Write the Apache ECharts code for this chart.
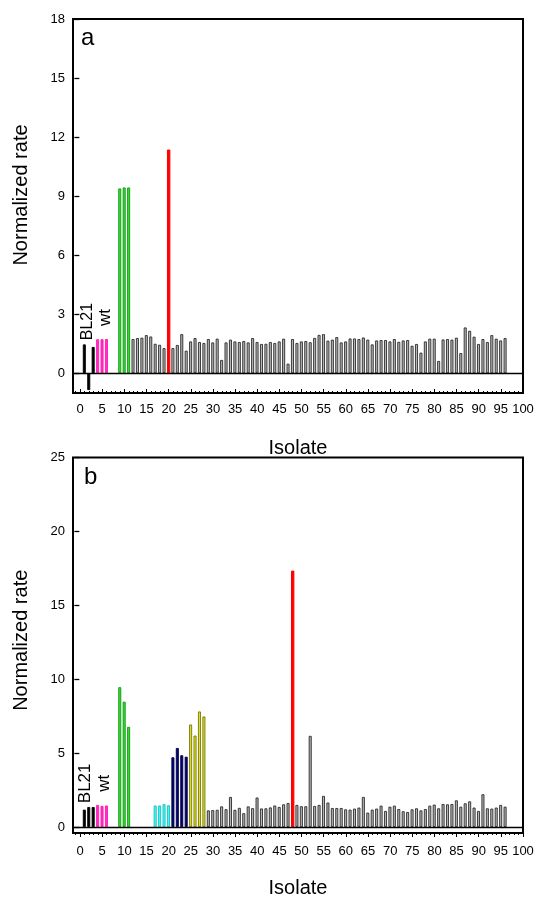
<!DOCTYPE html>
<html>
<head>
<meta charset="utf-8">
<title>Normalized rate by isolate</title>
<script src="https://cdn.jsdelivr.net/npm/echarts@6/dist/echarts.min.js"></script>
<style>
  html, body { margin: 0; padding: 0; background: #fff; }
  #chart { width: 536px; height: 898px; }
</style>
</head>
<body>
<div id="chart"></div>
<script>
// panel a, values by isolate number
const blackA = [1.47, -0.85, 1.34]   // isolates 1-3 (BL21)
const magentaA = [1.73, 1.73, 1.74]  // 4-6 (wt)
const greenA = [9.39, 9.44, 9.44]    // 9-11
const redA = [11.37]                 // 20
// isolates 12-96, null where the red bar sits (20)
const grayA = [
  1.74, 1.79, 1.81, 1.94, 1.87, 1.50, 1.45, 1.28, null, 1.28,
  1.44, 1.99, 1.15, 1.62, 1.79, 1.59, 1.54, 1.74, 1.57, 1.76,
  0.68, 1.57, 1.71, 1.62, 1.59, 1.64, 1.57, 1.79, 1.59, 1.49,
  1.50, 1.59, 1.54, 1.62, 1.76, 0.49, 1.74, 1.54, 1.62, 1.64,
  1.58, 1.80, 1.95, 1.99, 1.66, 1.71, 1.84, 1.57, 1.62, 1.77,
  1.77, 1.74, 1.82, 1.71, 1.47, 1.67, 1.69, 1.69, 1.62, 1.74,
  1.60, 1.67, 1.69, 1.40, 1.49, 1.05, 1.62, 1.76, 1.76, 0.63,
  1.72, 1.74, 1.71, 1.81, 1.03, 2.33, 2.16, 1.86, 1.49, 1.74,
  1.59, 1.94, 1.76, 1.67, 1.79
]

// panel b
const blackB = [1.18, 1.36, 1.36]        // 1-3
const magentaB = [1.50, 1.43, 1.46]      // 4-6
const greenB = [9.46, 8.48, 6.78]        // 9-11
const cyanB = [1.46, 1.46, 1.55, 1.48]   // 17-20
const navyB = [4.72, 5.35, 4.86, 4.76]   // 21-24
const yellowB = [6.94, 6.19, 7.82, 7.48] // 25-28
const redB = [17.35]                     // 48
// isolates 29-96, null at 48
const grayB = [
  1.13, 1.15, 1.17, 1.40, 1.21, 2.04, 1.17, 1.30, 0.94, 1.40,
  1.28, 2.00, 1.26, 1.27, 1.33, 1.46, 1.36, 1.54, 1.63, null,
  1.50, 1.41, 1.41, 6.17, 1.43, 1.50, 2.11, 1.66, 1.29, 1.29,
  1.29, 1.20, 1.18, 1.25, 1.32, 2.04, 0.98, 1.18, 1.25, 1.45,
  1.09, 1.38, 1.45, 1.22, 1.07, 1.02, 1.20, 1.27, 1.13, 1.22,
  1.45, 1.52, 1.27, 1.56, 1.54, 1.56, 1.81, 1.38, 1.61, 1.74,
  1.32, 1.09, 2.22, 1.27, 1.25, 1.32, 1.50, 1.38
]

const xLabels = [0, 5, 10, 15, 20, 25, 30, 35, 40, 45, 50, 55, 60, 65, 70, 75, 80, 85, 90, 95, 100]
const yLabelsA = [0, 3, 6, 9, 12, 15, 18]
const yLabelsB = [0, 5, 10, 15, 20, 25]

const annotations = [
  { panel: 0, text: 'BL21', at: [1.8, 2.63], size: 16 },
  { panel: 0, text: 'wt', at: [5.6, 2.84], size: 17 },
  { panel: 1, text: 'BL21', at: [1.1, 2.96], size: 17 },
  { panel: 1, text: 'wt', at: [5.4, 2.96], size: 17 },
]

const minorTicks = []
for (let i = -1; i <= 100; i++) minorTicks.push(i)

const FONT = 'Liberation Sans, Arial, sans-serif'

function toPoints(values, start) {
  const out = []
  values.forEach((v, i) => {
    if (v !== null) out.push([start + i, v])
  })
  return out
}

function bars(panel, values, start, fill, border, bw, width) {
  return {
    type: 'bar',
    xAxisIndex: panel * 3,
    yAxisIndex: panel,
    data: toPoints(values, start),
    barWidth: width || 3,
    barGap: '-100%',
    itemStyle: { color: fill, borderColor: border, borderWidth: bw },
    silent: true,
  }
}

// per panel: labelled axis, minor-tick axis, and a hidden axis whose zero
// sits just inside the left edge; the y axis is pinned there
function xAxes(panel, inside) {
  const base = {
    type: 'value',
    gridIndex: panel,
    min: -1.6,
    max: 100,
    position: 'bottom',
    axisLine: { show: false, onZero: false },
    splitLine: { show: false },
  }
  return [
    Object.assign({}, base, {
      name: 'Isolate',
      nameLocation: 'middle',
      nameGap: 45,
      nameTextStyle: { fontSize: 20, color: '#000', fontFamily: FONT },
      axisTick: { customValues: xLabels, inside: inside, length: 4, lineStyle: { color: '#000' } },
      axisLabel: { customValues: xLabels, color: '#000', fontSize: 13, fontFamily: FONT, margin: inside ? 10 : 12 },
    }),
    Object.assign({}, base, {
      axisTick: { customValues: minorTicks, inside: inside, length: 2, lineStyle: { color: '#000' } },
      axisLabel: { show: false },
    }),
    { type: 'value', gridIndex: panel, min: -0.003, max: 1, show: false, axisLine: { onZero: false } },
  ]
}

function yAxis(panel, min, max, labels, lift) {
  return {
    type: 'value',
    gridIndex: panel,
    min: min,
    max: max,
    name: 'Normalized rate',
    nameLocation: 'middle',
    nameGap: 42,
    nameTextStyle: { fontSize: 20, color: '#000', fontFamily: FONT, padding: [0, 0, 0, lift] },
    axisLine: { show: false, onZero: true, onZeroAxisIndex: panel * 3 + 2 },
    splitLine: { show: false },
    axisTick: { customValues: labels, inside: true, length: 5, lineStyle: { color: '#000', width: 1.3 } },
    axisLabel: { customValues: labels, color: '#000', fontSize: 13, fontFamily: FONT, margin: 8 },
  }
}

const gray = '#b4b4b4'
const grayEdge = '#2a2a2a'

const zeroLine = {
  silent: true,
  symbol: ['none', 'none'],
  label: { show: false },
  lineStyle: { color: '#000', width: 1.3, type: 'solid' },
  data: [{ yAxis: 0 }],
}

const chart = echarts.init(document.getElementById('chart'))
chart.setOption({
  animation: false,
  backgroundColor: '#fff',
  grid: [
    { left: 73, right: 13, top: 19, bottom: 505, show: true, borderColor: '#000', borderWidth: 2, outerBoundsMode: 'none' },
    { left: 73, right: 13, top: 457.5, bottom: 65, show: true, borderColor: '#000', borderWidth: 2, outerBoundsMode: 'none' },
  ],
  xAxis: xAxes(0, true).concat(xAxes(1, false)),
  yAxis: [yAxis(0, -1, 18, yLabelsA, 22), yAxis(1, -0.4, 25, yLabelsB, 10)],
  series: [
    Object.assign(bars(0, grayA, 12, gray, grayEdge, 0.9), { markLine: zeroLine }),
    bars(0, blackA, 1, '#000', '#000', 0.9),
    bars(0, magentaA, 4, '#ff22ff', '#ff2288', 0.9),
    bars(0, greenA, 9, '#33dd33', '#119911', 0.9),
    bars(0, redA, 20, '#ff0000', '#ff0000', 1, 3.4),
    Object.assign(bars(1, grayB, 29, gray, grayEdge, 0.9), { markLine: zeroLine }),
    bars(1, blackB, 1, '#000', '#000', 0.9),
    bars(1, magentaB, 4, '#ff22ff', '#ff2288', 0.9),
    bars(1, greenB, 9, '#33dd33', '#119911', 0.9),
    bars(1, cyanB, 17, '#33ffff', '#22bbbb', 0.9),
    bars(1, navyB, 21, '#000080', '#000040', 0.9),
    bars(1, yellowB, 25, '#dddd33', '#777700', 0.9),
    bars(1, redB, 48, '#ff0000', '#ff0000', 1, 3.4),
  ],
})

// panel letters and rotated group labels, placed through the axes
const graphics = [
  { type: 'text', x: 81, y: 38, style: { text: 'a', fontSize: 24, fontFamily: FONT, fill: '#000', verticalAlign: 'middle' } },
  { type: 'text', x: 84, y: 477, style: { text: 'b', fontSize: 24, fontFamily: FONT, fill: '#000', verticalAlign: 'middle' } },
]
annotations.forEach((a) => {
  const p = chart.convertToPixel({ xAxisIndex: a.panel * 3, yAxisIndex: a.panel }, a.at)
  graphics.push({
    type: 'text',
    x: p[0],
    y: p[1],
    rotation: Math.PI / 2,
    style: { text: a.text, fontSize: a.size, fontFamily: FONT, fill: '#000', align: 'center', verticalAlign: 'middle' },
  })
})
chart.setOption({ graphic: graphics })
</script>
</body>
</html>
